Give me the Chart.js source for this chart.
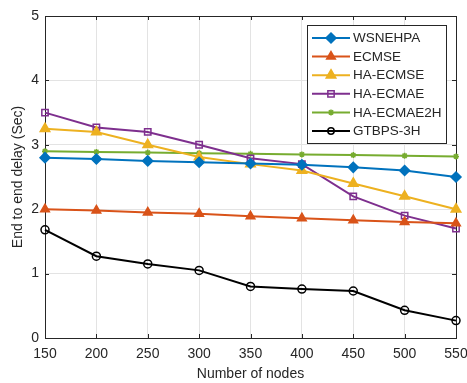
<!DOCTYPE html>
<html>
<head>
<meta charset="utf-8">
<script src="https://cdn.jsdelivr.net/npm/chart.js@4/dist/chart.umd.min.js"></script>
<style>
  body { margin: 0; background: #fff; }
  #wrap { width: 467px; height: 383px; }
</style>
</head>
<body>
<div id="wrap"><canvas id="chart" width="467" height="383"></canvas></div>
<script>
const nodes = [150, 200, 250, 300, 350, 400, 450, 500, 550]
const wsnehpa = [2.80, 2.78, 2.75, 2.73, 2.71, 2.69, 2.65, 2.60, 2.50]
const ecmse = [2.00, 1.98, 1.95, 1.93, 1.89, 1.86, 1.83, 1.80, 1.78]
const haEcmse = [3.25, 3.20, 3.00, 2.81, 2.70, 2.60, 2.40, 2.20, 2.00]
const haEcmae = [3.50, 3.27, 3.20, 3.00, 2.79, 2.70, 2.20, 1.90, 1.70]
const haEcmae2h = [2.90, 2.89, 2.88, 2.87, 2.86, 2.85, 2.84, 2.83, 2.82]
const gtbps3h = [1.68, 1.27, 1.15, 1.05, 0.80, 0.76, 0.73, 0.43, 0.27]

const textColor = "#262626"
const font = "Liberation Sans, Arial, Helvetica, sans-serif"

// one entry per series: label, values, colour, marker
const seriesInfo = [
  { label: "WSNEHPA", data: wsnehpa, color: "#0072BD", style: "rectRot", radius: 5, fill: true },
  { label: "ECMSE", data: ecmse, color: "#D95319", style: "triangle", radius: 5, fill: true },
  { label: "HA-ECMSE", data: haEcmse, color: "#EDB120", style: "triangle", radius: 5.5, fill: true },
  { label: "HA-ECMAE", data: haEcmae, color: "#7E2F8E", style: "rect", radius: 4.5, fill: false },
  { label: "HA-ECMAE2H", data: haEcmae2h, color: "#77AC30", style: "star", radius: 3, fill: false },
  { label: "GTBPS-3H", data: gtbps3h, color: "#000000", style: "circle", radius: 4, fill: false }
]

const datasets = seriesInfo.map(s => ({
  label: s.label,
  data: s.data.map((v, i) => ({ x: nodes[i], y: v })),
  borderColor: s.color,
  backgroundColor: s.color,
  borderWidth: 2,
  pointStyle: s.style,
  pointRadius: s.radius,
  pointBorderWidth: 1.5,
  pointBackgroundColor: s.fill ? s.color : "rgba(0,0,0,0)",
  pointBorderColor: s.color,
  clip: false,
  tension: 0
}))

// own marker drawing for the legend
function drawMarker(ctx, s, x, y) {
  const r = s.radius
  ctx.save()
  ctx.strokeStyle = s.color
  ctx.fillStyle = s.color
  ctx.lineWidth = 1.5
  ctx.beginPath()
  if (s.style == "rectRot") {
    ctx.moveTo(x, y - r); ctx.lineTo(x + r, y); ctx.lineTo(x, y + r); ctx.lineTo(x - r, y); ctx.closePath()
  } else if (s.style == "triangle") {
    ctx.moveTo(x, y - r); ctx.lineTo(x + r * 0.87, y + r * 0.5); ctx.lineTo(x - r * 0.87, y + r * 0.5); ctx.closePath()
  } else if (s.style == "rect") {
    ctx.rect(x - r * 0.7, y - r * 0.7, r * 1.4, r * 1.4)
  } else if (s.style == "circle") {
    ctx.arc(x, y, r * 0.8, 0, Math.PI * 2)
  } else if (s.style == "star") {
    ctx.moveTo(x - r, y); ctx.lineTo(x + r, y)
    ctx.moveTo(x, y - r); ctx.lineTo(x, y + r)
    ctx.moveTo(x - r * 0.7, y - r * 0.7); ctx.lineTo(x + r * 0.7, y + r * 0.7)
    ctx.moveTo(x - r * 0.7, y + r * 0.7); ctx.lineTo(x + r * 0.7, y - r * 0.7)
  }
  if (s.fill) ctx.fill()
  ctx.stroke()
  ctx.restore()
}

const boxPlugin = {
  id: "matlabBox",
  beforeDatasetsDraw(chart) {
    const { ctx, chartArea: a, scales } = chart
    ctx.save()
    ctx.strokeStyle = textColor
    ctx.lineWidth = 1
    ctx.strokeRect(a.left + 0.5, a.top + 0.5, a.right - a.left, a.bottom - a.top)
    ctx.beginPath()
    scales.x.ticks.forEach(t => {
      const px = Math.round(scales.x.getPixelForValue(t.value)) + 0.5
      ctx.moveTo(px, a.bottom); ctx.lineTo(px, a.bottom - 4)
      ctx.moveTo(px, a.top); ctx.lineTo(px, a.top + 4)
    })
    scales.y.ticks.forEach(t => {
      const py = Math.round(scales.y.getPixelForValue(t.value)) + 0.5
      ctx.moveTo(a.left, py); ctx.lineTo(a.left + 4, py)
      ctx.moveTo(a.right, py); ctx.lineTo(a.right - 4, py)
    })
    ctx.stroke()
    ctx.restore()
  },
  afterDatasetsDraw(chart) {
    const ctx = chart.ctx
    const bx = 307.5, by = 25.5, bw = 139, bh = 118
    ctx.save()
    ctx.fillStyle = "#fff"
    ctx.fillRect(bx, by, bw, bh)
    ctx.strokeStyle = textColor
    ctx.lineWidth = 1
    ctx.strokeRect(bx, by, bw, bh)
    ctx.font = "13.5px " + font
    ctx.textBaseline = "middle"
    ctx.textAlign = "left"
    seriesInfo.forEach((s, i) => {
      const y = 38 + i * 18.6
      ctx.strokeStyle = s.color
      ctx.lineWidth = 2
      ctx.beginPath()
      ctx.moveTo(312, y); ctx.lineTo(350, y)
      ctx.stroke()
      drawMarker(ctx, s, 331, y)
      ctx.fillStyle = textColor
      ctx.fillText(s.label, 353, y + 0.5)
    })
    ctx.restore()
  }
}

new Chart(document.getElementById("chart").getContext("2d"), {
  type: "line",
  data: { datasets },
  options: {
    responsive: false,
    animation: false,
    devicePixelRatio: 1,
    layout: { padding: { left: 0, right: 11, top: 16, bottom: 0 } },
    plugins: { legend: { display: false }, tooltip: { enabled: false } },
    scales: {
      x: {
        type: "linear",
        min: 150, max: 550,
        afterFit: scale => {
          scale.height = 45
          scale.paddingLeft = 0
          scale.paddingRight = 0
        },
        ticks: { stepSize: 50, color: textColor, padding: 8, font: { family: font, size: 14 }, maxRotation: 0 },
        grid: { color: "#e3e3e3", drawTicks: false },
        border: { display: false },
        title: { display: true, text: "Number of nodes", color: textColor, font: { family: font, size: 14 }, padding: { top: 0, bottom: 0 } }
      },
      y: {
        min: 0, max: 5,
        afterFit: scale => {
          scale.width = 45
          scale.paddingTop = 0
          scale.paddingBottom = 0
        },
        ticks: { stepSize: 1, color: textColor, padding: 6, font: { family: font, size: 14 } },
        grid: { color: "#e3e3e3", drawTicks: false },
        border: { display: false },
        title: { display: true, text: "End to end delay (Sec)", color: textColor, font: { family: font, size: 14 }, padding: { top: 10, bottom: 0 } }
      }
    }
  },
  plugins: [boxPlugin]
})
</script>
</body>
</html>
